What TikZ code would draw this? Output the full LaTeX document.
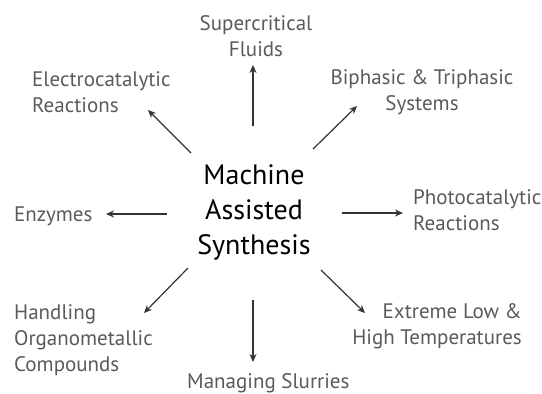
\documentclass[tikz,border=0pt]{standalone}
\usepackage{fontspec}
\setmainfont{PT Sans}
\usetikzlibrary{arrows.meta}

\definecolor{labelgrey}{HTML}{5A5A5A}
\definecolor{arrowgrey}{HTML}{333333}

\begin{document}
\begin{tikzpicture}[x=1pt,y=-1pt,
        topic/.style={inner sep=0pt,text=labelgrey,font=\fontsize{21}{26}\selectfont},
        hub/.style={inner sep=0pt,align=center,text=black,font=\fontsize{28}{35}\selectfont},
        arr/.style={draw=arrowgrey,line width=1.2pt,-{Stealth[length=8pt,width=7pt]}}]
        \useasboundingbox (0,0) rectangle (542,394);
        % centre
        \node[hub] (ms) at (254,212) {Machine\\Assisted\\Synthesis};
        % topics round it
        \node[topic,align=center] (sc) at (256,36) {Supercritical\\Fluids};
        \node[topic,align=left,anchor=west] (ec) at (32,92) {Electrocatalytic\\Reactions};
        \node[topic,align=center] (bt) at (422,92) {Biphasic \& Triphasic\\Systems};
        \node[topic,anchor=west] (enz) at (14,216) {Enzymes};
        \node[topic,align=left,anchor=west] (pc) at (413,210.5) {Photocatalytic\\Reactions};
        \node[topic,align=left,anchor=west] (ho) at (14,340) {Handling\\Organometallic\\Compounds};
        \node[topic,anchor=west] (msl) at (187,383) {Managing Slurries};
        \node[topic,align=right,anchor=east] (ext) at (522,326) {Extreme Low \&\\High Temperatures};
        % arrow ends
        \coordinate (sc-t) at (253,126);  \coordinate (sc-h) at (253,65);
        \coordinate (ec-t) at (191,153);  \coordinate (ec-h) at (148,110);
        \coordinate (bt-t) at (313,149);  \coordinate (bt-h) at (357,106);
        \coordinate (enz-t) at (167,214); \coordinate (enz-h) at (106,214);
        \coordinate (pc-t) at (342,213);  \coordinate (pc-h) at (403,213);
        \coordinate (ho-t) at (188,268);  \coordinate (ho-h) at (144,313);
        \coordinate (msl-t) at (253,300); \coordinate (msl-h) at (253,362);
        \coordinate (ext-t) at (321,270); \coordinate (ext-h) at (365,313);
        \foreach \n in {sc,ec,bt,enz,pc,ho,msl,ext}
            \draw[arr] (\n-t) -- (\n-h);
\end{tikzpicture}
\end{document}
